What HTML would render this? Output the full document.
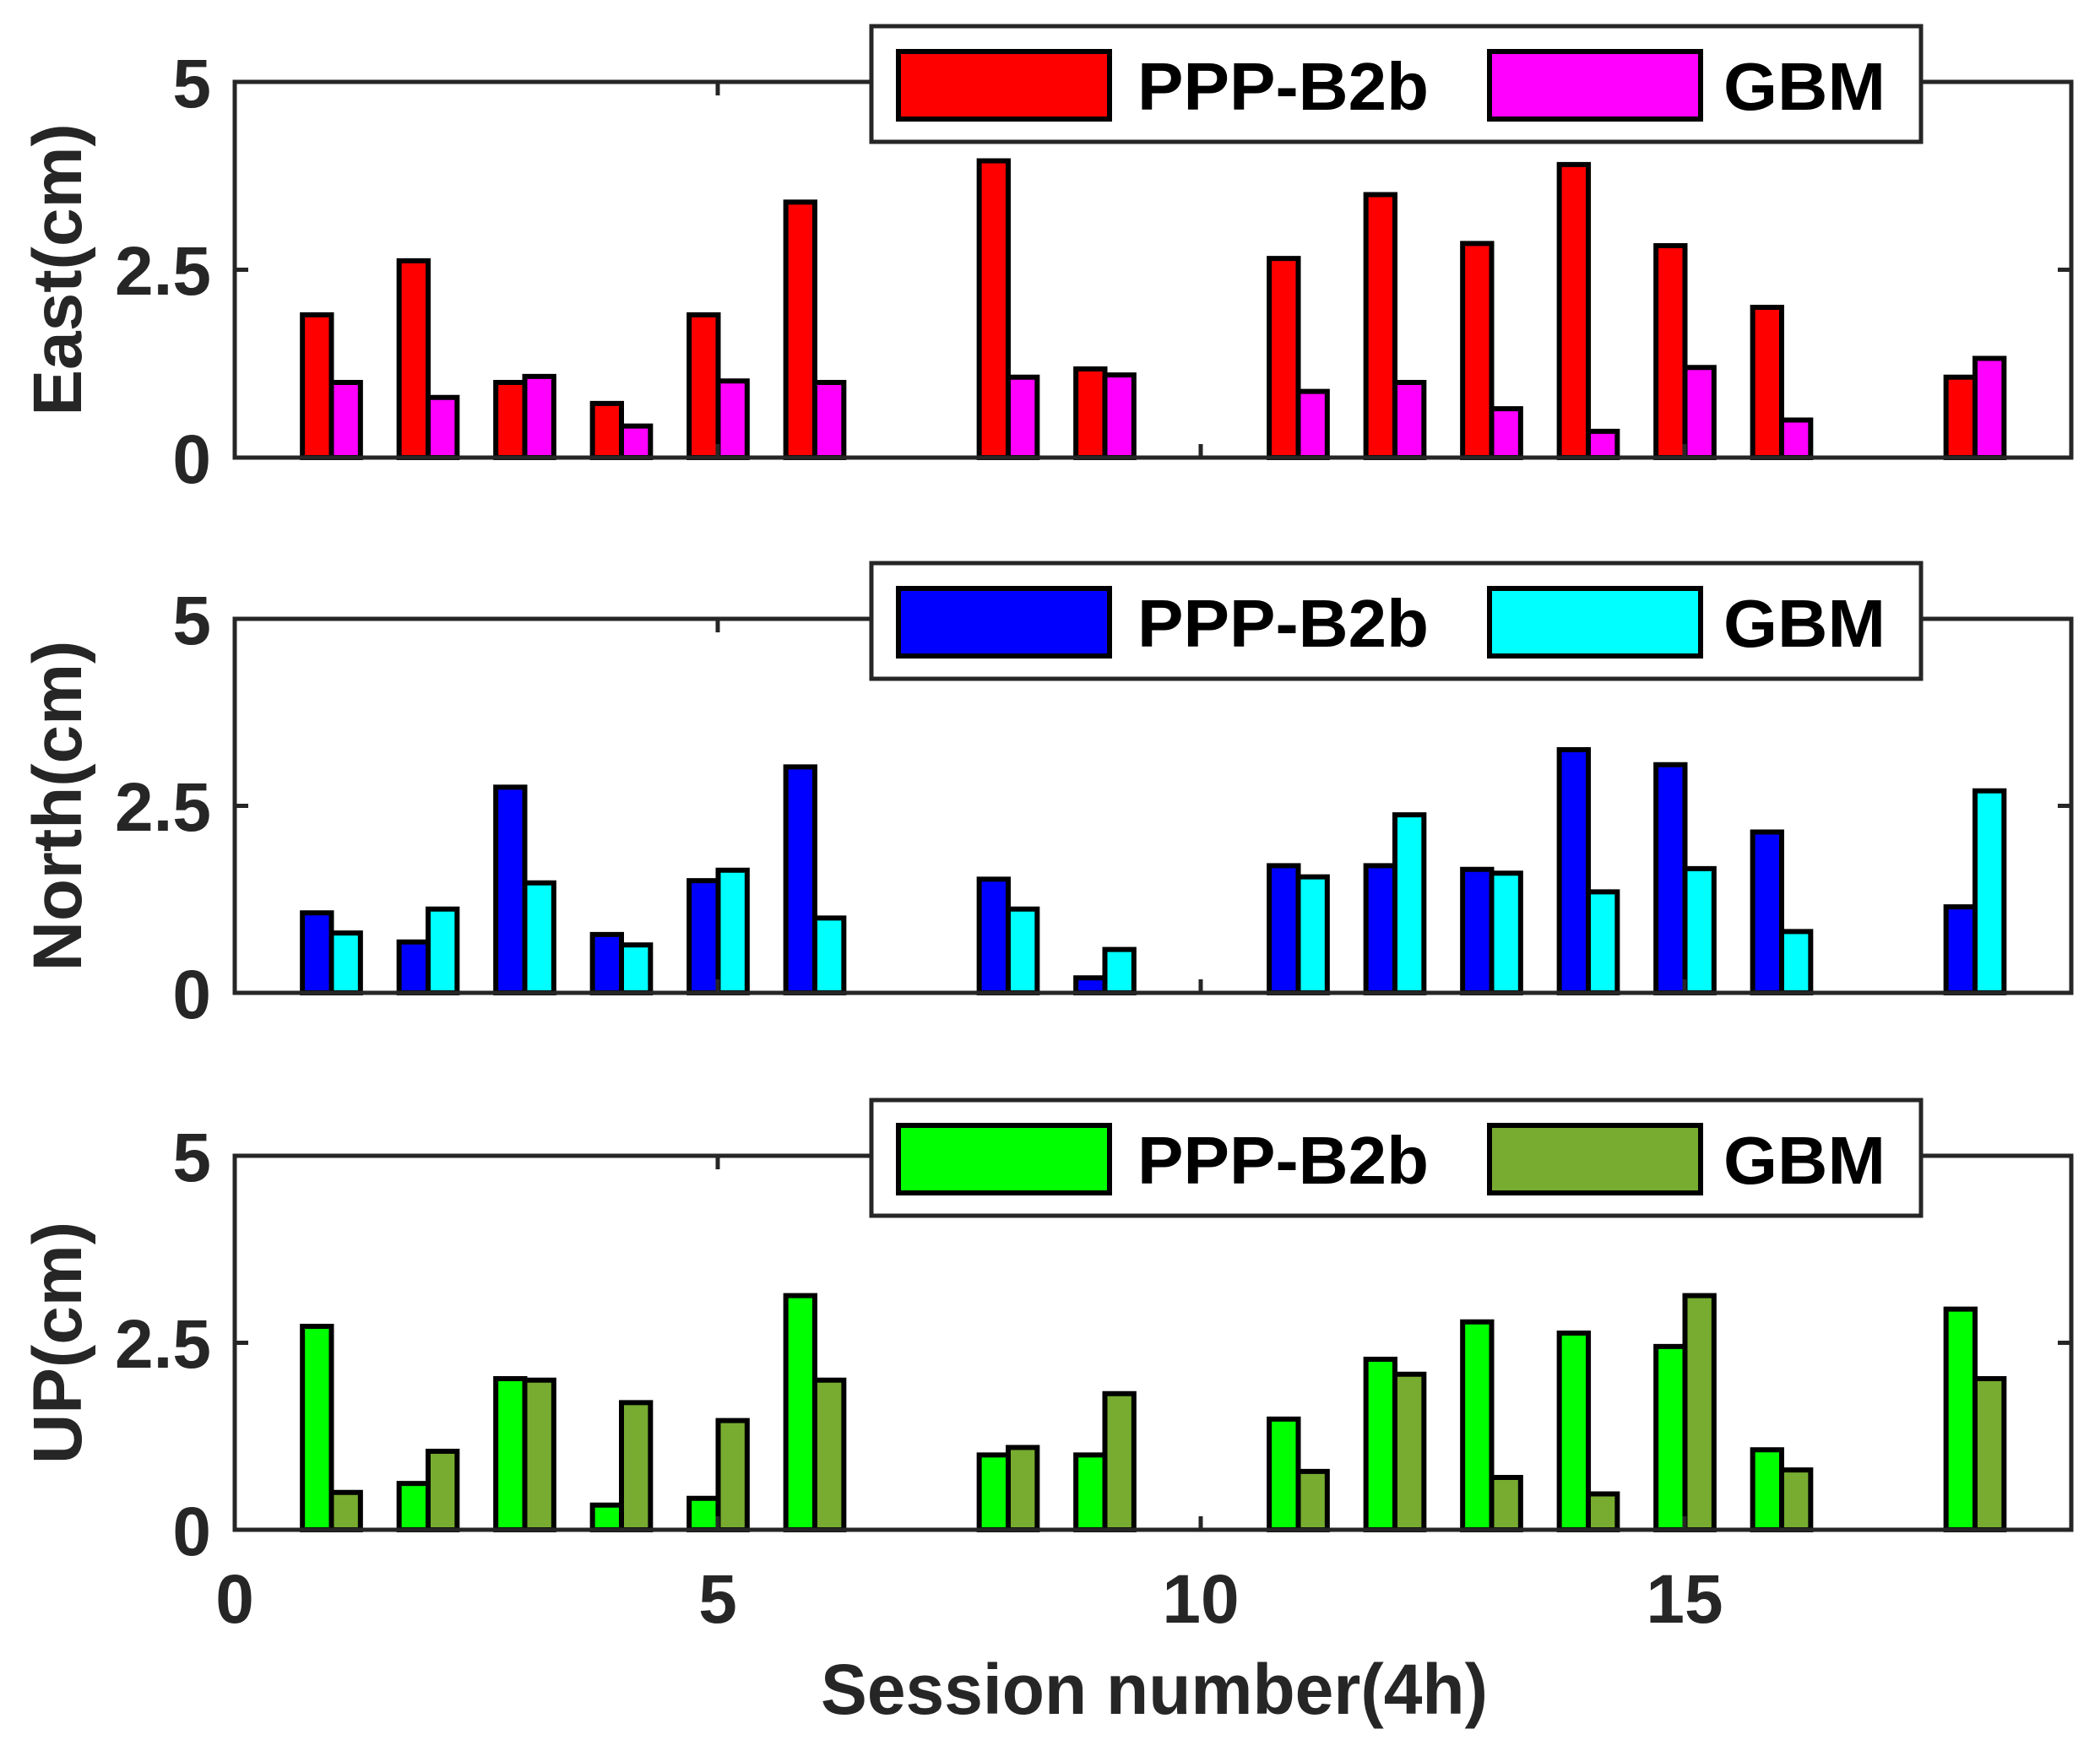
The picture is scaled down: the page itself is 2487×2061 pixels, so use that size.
<!DOCTYPE html>
<html><head><meta charset="utf-8"><style>
html,body{margin:0;padding:0;background:#fff;}
svg{display:block;}
text{font-family:"Liberation Sans",Arial,sans-serif;font-weight:bold;}
.t{fill:#262626;font-size:82px;}
.l{fill:#000;font-size:80px;}
.ax{fill:none;stroke:#262626;stroke-width:5;}
.b rect{stroke:#000;stroke-width:6;vector-effect:non-scaling-stroke;}
</style></head><body>
<svg width="2487" height="2061" viewBox="0 0 2487 2061" xmlns="http://www.w3.org/2000/svg">

<g class="b" transform="translate(278,542) scale(114.5,-89)">
<g fill="#ff0000">
<rect x="0.7" y="0" width="0.3" height="1.9"/><rect x="1.7" y="0" width="0.3" height="2.62"/>
<rect x="2.7" y="0" width="0.3" height="1.0"/><rect x="3.7" y="0" width="0.3" height="0.72"/>
<rect x="4.7" y="0" width="0.3" height="1.9"/><rect x="5.7" y="0" width="0.3" height="3.4"/>
<rect x="7.7" y="0" width="0.3" height="3.95"/><rect x="8.7" y="0" width="0.3" height="1.18"/>
<rect x="10.7" y="0" width="0.3" height="2.65"/><rect x="11.7" y="0" width="0.3" height="3.5"/>
<rect x="12.7" y="0" width="0.3" height="2.85"/><rect x="13.7" y="0" width="0.3" height="3.9"/>
<rect x="14.7" y="0" width="0.3" height="2.82"/><rect x="15.7" y="0" width="0.3" height="2.0"/>
<rect x="17.7" y="0" width="0.3" height="1.07"/>
</g>
<g fill="#ff00ff">
<rect x="1" y="0" width="0.3" height="1.0"/><rect x="2" y="0" width="0.3" height="0.8"/>
<rect x="3" y="0" width="0.3" height="1.08"/><rect x="4" y="0" width="0.3" height="0.42"/>
<rect x="5" y="0" width="0.3" height="1.02"/><rect x="6" y="0" width="0.3" height="1.0"/>
<rect x="8" y="0" width="0.3" height="1.07"/><rect x="9" y="0" width="0.3" height="1.1"/>
<rect x="11" y="0" width="0.3" height="0.88"/><rect x="12" y="0" width="0.3" height="1.0"/>
<rect x="13" y="0" width="0.3" height="0.65"/><rect x="14" y="0" width="0.3" height="0.35"/>
<rect x="15" y="0" width="0.3" height="1.2"/><rect x="16" y="0" width="0.3" height="0.5"/>
<rect x="18" y="0" width="0.3" height="1.32"/>
</g>
</g>
<rect class="ax" x="278" y="97" width="2175" height="445"/>
<path class="ax" d="M850,542v-16M1422,542v-16M1995,542v-16M850,97v16M1422,97v16M1995,97v16M278,319.5h16M2453,319.5h-16"/>
<text class="t" x="250" y="127" text-anchor="end">5</text>
<text class="t" x="250" y="349" text-anchor="end">2.5</text>
<text class="t" x="250" y="572" text-anchor="end">0</text>
<text class="t" transform="translate(96,319.5) rotate(-90)" text-anchor="middle">East(cm)</text>
<g transform="translate(0,31)">
<rect x="1032" y="0" width="1243" height="137" fill="#fff" stroke="#262626" stroke-width="5"/>
<rect x="1064" y="30" width="250" height="80" fill="#ff0000" stroke="#000" stroke-width="6"/>
<text class="l" x="1347" y="99" textLength="345" lengthAdjust="spacingAndGlyphs">PPP-B2b</text>
<rect x="1764" y="30" width="250" height="80" fill="#ff00ff" stroke="#000" stroke-width="6"/>
<text class="l" x="2041" y="99" textLength="192" lengthAdjust="spacingAndGlyphs">GBM</text>
</g>

<g class="b" transform="translate(278,1176) scale(114.5,-88.6)">
<g fill="#0000ff">
<rect x="0.7" y="0" width="0.3" height="1.07"/><rect x="1.7" y="0" width="0.3" height="0.68"/>
<rect x="2.7" y="0" width="0.3" height="2.75"/><rect x="3.7" y="0" width="0.3" height="0.78"/>
<rect x="4.7" y="0" width="0.3" height="1.5"/><rect x="5.7" y="0" width="0.3" height="3.02"/>
<rect x="7.7" y="0" width="0.3" height="1.52"/><rect x="8.7" y="0" width="0.3" height="0.2"/>
<rect x="10.7" y="0" width="0.3" height="1.7"/><rect x="11.7" y="0" width="0.3" height="1.7"/>
<rect x="12.7" y="0" width="0.3" height="1.65"/><rect x="13.7" y="0" width="0.3" height="3.25"/>
<rect x="14.7" y="0" width="0.3" height="3.05"/><rect x="15.7" y="0" width="0.3" height="2.15"/>
<rect x="17.7" y="0" width="0.3" height="1.15"/>
</g>
<g fill="#00ffff">
<rect x="1" y="0" width="0.3" height="0.8"/><rect x="2" y="0" width="0.3" height="1.12"/>
<rect x="3" y="0" width="0.3" height="1.47"/><rect x="4" y="0" width="0.3" height="0.64"/>
<rect x="5" y="0" width="0.3" height="1.64"/><rect x="6" y="0" width="0.3" height="1.0"/>
<rect x="8" y="0" width="0.3" height="1.12"/><rect x="9" y="0" width="0.3" height="0.58"/>
<rect x="11" y="0" width="0.3" height="1.55"/><rect x="12" y="0" width="0.3" height="2.38"/>
<rect x="13" y="0" width="0.3" height="1.6"/><rect x="14" y="0" width="0.3" height="1.35"/>
<rect x="15" y="0" width="0.3" height="1.66"/><rect x="16" y="0" width="0.3" height="0.82"/>
<rect x="18" y="0" width="0.3" height="2.7"/>
</g>
</g>
<rect class="ax" x="278" y="733" width="2175" height="443"/>
<path class="ax" d="M850,1176v-16M1422,1176v-16M1995,1176v-16M850,733v16M1422,733v16M1995,733v16M278,954.5h16M2453,954.5h-16"/>
<text class="t" x="250" y="763" text-anchor="end">5</text>
<text class="t" x="250" y="984" text-anchor="end">2.5</text>
<text class="t" x="250" y="1206" text-anchor="end">0</text>
<text class="t" transform="translate(96,954.5) rotate(-90)" text-anchor="middle">North(cm)</text>
<g transform="translate(0,667)">
<rect x="1032" y="0" width="1243" height="137" fill="#fff" stroke="#262626" stroke-width="5"/>
<rect x="1064" y="30" width="250" height="80" fill="#0000ff" stroke="#000" stroke-width="6"/>
<text class="l" x="1347" y="99" textLength="345" lengthAdjust="spacingAndGlyphs">PPP-B2b</text>
<rect x="1764" y="30" width="250" height="80" fill="#00ffff" stroke="#000" stroke-width="6"/>
<text class="l" x="2041" y="99" textLength="192" lengthAdjust="spacingAndGlyphs">GBM</text>
</g>

<g class="b" transform="translate(278,1812) scale(114.5,-88.6)">
<g fill="#00ff00">
<rect x="0.7" y="0" width="0.3" height="2.72"/><rect x="1.7" y="0" width="0.3" height="0.62"/>
<rect x="2.7" y="0" width="0.3" height="2.02"/><rect x="3.7" y="0" width="0.3" height="0.33"/>
<rect x="4.7" y="0" width="0.3" height="0.42"/><rect x="5.7" y="0" width="0.3" height="3.13"/>
<rect x="7.7" y="0" width="0.3" height="1.0"/><rect x="8.7" y="0" width="0.3" height="1.0"/>
<rect x="10.7" y="0" width="0.3" height="1.48"/><rect x="11.7" y="0" width="0.3" height="2.28"/>
<rect x="12.7" y="0" width="0.3" height="2.78"/><rect x="13.7" y="0" width="0.3" height="2.63"/>
<rect x="14.7" y="0" width="0.3" height="2.45"/><rect x="15.7" y="0" width="0.3" height="1.07"/>
<rect x="17.7" y="0" width="0.3" height="2.95"/>
</g>
<g fill="#77ac30">
<rect x="1" y="0" width="0.3" height="0.5"/><rect x="2" y="0" width="0.3" height="1.05"/>
<rect x="3" y="0" width="0.3" height="2.0"/><rect x="4" y="0" width="0.3" height="1.7"/>
<rect x="5" y="0" width="0.3" height="1.46"/><rect x="6" y="0" width="0.3" height="2.0"/>
<rect x="8" y="0" width="0.3" height="1.1"/><rect x="9" y="0" width="0.3" height="1.82"/>
<rect x="11" y="0" width="0.3" height="0.78"/><rect x="12" y="0" width="0.3" height="2.08"/>
<rect x="13" y="0" width="0.3" height="0.7"/><rect x="14" y="0" width="0.3" height="0.48"/>
<rect x="15" y="0" width="0.3" height="3.13"/><rect x="16" y="0" width="0.3" height="0.8"/>
<rect x="18" y="0" width="0.3" height="2.02"/>
</g>
</g>
<rect class="ax" x="278" y="1369" width="2175" height="443"/>
<path class="ax" d="M850,1812v-16M1422,1812v-16M1995,1812v-16M850,1369v16M1422,1369v16M1995,1369v16M278,1590.5h16M2453,1590.5h-16"/>
<text class="t" x="250" y="1399" text-anchor="end">5</text>
<text class="t" x="250" y="1620" text-anchor="end">2.5</text>
<text class="t" x="250" y="1842" text-anchor="end">0</text>
<text class="t" transform="translate(96,1590.5) rotate(-90)" text-anchor="middle">UP(cm)</text>
<g transform="translate(0,1303)">
<rect x="1032" y="0" width="1243" height="137" fill="#fff" stroke="#262626" stroke-width="5"/>
<rect x="1064" y="30" width="250" height="80" fill="#00ff00" stroke="#000" stroke-width="6"/>
<text class="l" x="1347" y="99" textLength="345" lengthAdjust="spacingAndGlyphs">PPP-B2b</text>
<rect x="1764" y="30" width="250" height="80" fill="#77ac30" stroke="#000" stroke-width="6"/>
<text class="l" x="2041" y="99" textLength="192" lengthAdjust="spacingAndGlyphs">GBM</text>
</g>

<text class="t" x="278" y="1922" text-anchor="middle">0</text>
<text class="t" x="850" y="1922" text-anchor="middle">5</text>
<text class="t" x="1422" y="1922" text-anchor="middle">10</text>
<text class="t" x="1995" y="1922" text-anchor="middle">15</text>
<text class="t" x="972" y="2030" textLength="790" lengthAdjust="spacingAndGlyphs" style="font-size:84px">Session number(4h)</text>
</svg>
</body></html>
